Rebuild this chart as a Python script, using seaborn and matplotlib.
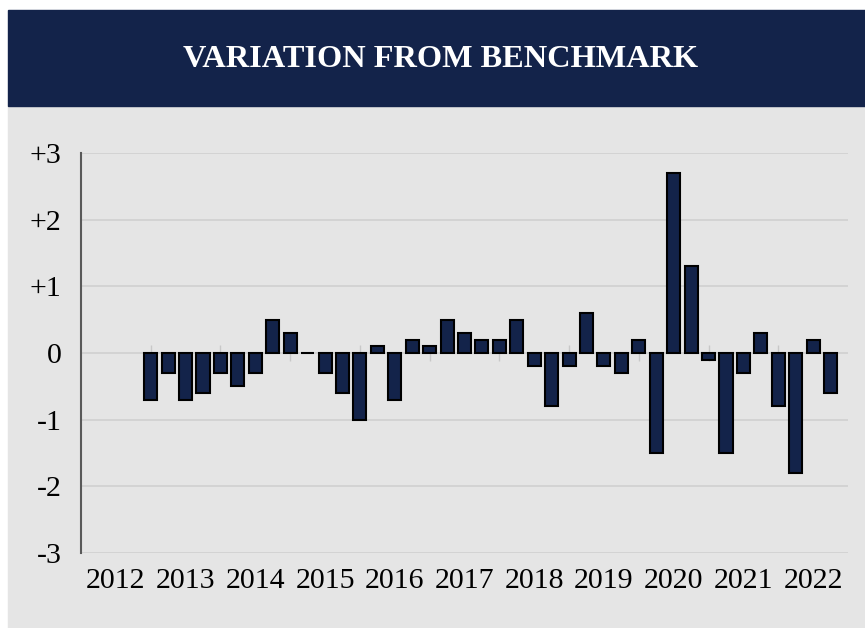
"""
Variation from benchmark — quarterly bar chart.
Writes out.png
"""
import pandas as pd
import matplotlib.pyplot as plt
import matplotlib.ticker as mticker
from matplotlib.patches import Rectangle
import seaborn as sns

sns.set_theme(style="white")
plt.rcParams["font.family"] = ["Liberation Serif", "DejaVu Serif"]

NAVY = "#13234a"
PANEL = "#e5e5e5"
GRID = "#d2d2d2"

# ── Data ─────────────────────────────────────────────────────
first_quarter = "2013Q1"
variation = [
    -0.7, -0.3, -0.7, -0.6,   # 2013
    -0.3, -0.5, -0.3,  0.5,   # 2014
     0.3,  0.0, -0.3, -0.6,   # 2015
    -1.0,  0.1, -0.7,  0.2,   # 2016
     0.1,  0.5,  0.3,  0.2,   # 2017
     0.2,  0.5, -0.2, -0.8,   # 2018
    -0.2,  0.6, -0.2, -0.3,   # 2019
     0.2, -1.5,  2.7,  1.3,   # 2020
    -0.1, -1.5, -0.3,  0.3,   # 2021
    -0.8, -1.8,  0.2, -0.6,   # 2022
]
year_labels = list(range(2012, 2023))
y_ticks = [-3, -2, -1, 0, 1, 2, 3]

quarters = pd.period_range(first_quarter, periods=len(variation), freq="Q")
df = pd.DataFrame({
    "t": quarters.year + (quarters.quarter - 1) / 4,
    "variation": variation,
})

# ── Figure: white margin, navy banner, grey panel ────────────
W, H = 865, 628
fig = plt.figure(figsize=(W / 100, H / 100), dpi=100, facecolor="white")
fig.add_artist(Rectangle((8 / W, 0), 1, 522 / H, transform=fig.transFigure,
                         color=PANEL, zorder=-10))
fig.add_artist(Rectangle((8 / W, 522 / H), 1, 96 / H, transform=fig.transFigure,
                         color=NAVY, zorder=-10))
fig.text(441 / W, (H - 67) / H, "VARIATION FROM BENCHMARK", color="white",
         fontsize=23.3, fontweight="bold", ha="center", va="baseline")

ax = fig.add_axes([81 / W, 75 / H, 767 / W, 400 / H])
ax.set_facecolor(PANEL)

# ── Bars ─────────────────────────────────────────────────────
sns.barplot(data=df, x="t", y="variation", native_scale=True, width=0.75,
            color=NAVY, saturation=1, edgecolor="black", linewidth=1.5,
            errorbar=None, ax=ax, zorder=3)

# small category ticks crossing the zero line
ax.vlines(year_labels[1:], -0.12, 0.12, color="#c8c8c8", lw=1, zorder=2)

ax.set_xlim(year_labels[0], year_labels[-1] + 1)
ax.set_ylim(y_ticks[0], y_ticks[-1])
ax.set_xlabel("")
ax.set_ylabel("")

ax.set_xticks([y + 0.5 for y in year_labels], labels=[str(y) for y in year_labels])
ax.set_yticks(y_ticks)
ax.yaxis.set_major_formatter(mticker.FuncFormatter(lambda v, _: "0" if v == 0 else f"{int(v):+d}"))
ax.tick_params(axis="x", length=0, pad=11, labelsize=21.5, labelcolor="black")
ax.tick_params(axis="y", length=0, pad=14, labelsize=21.5, labelcolor="black")

ax.yaxis.grid(True, color=GRID, lw=1.3)
ax.xaxis.grid(False)
ax.set_axisbelow(True)
for side in ["top", "right", "bottom"]:
    ax.spines[side].set_visible(False)
ax.spines["left"].set_color("#595959")
ax.spines["left"].set_linewidth(1.5)

fig.savefig("out.png", dpi=100, facecolor=fig.get_facecolor())
